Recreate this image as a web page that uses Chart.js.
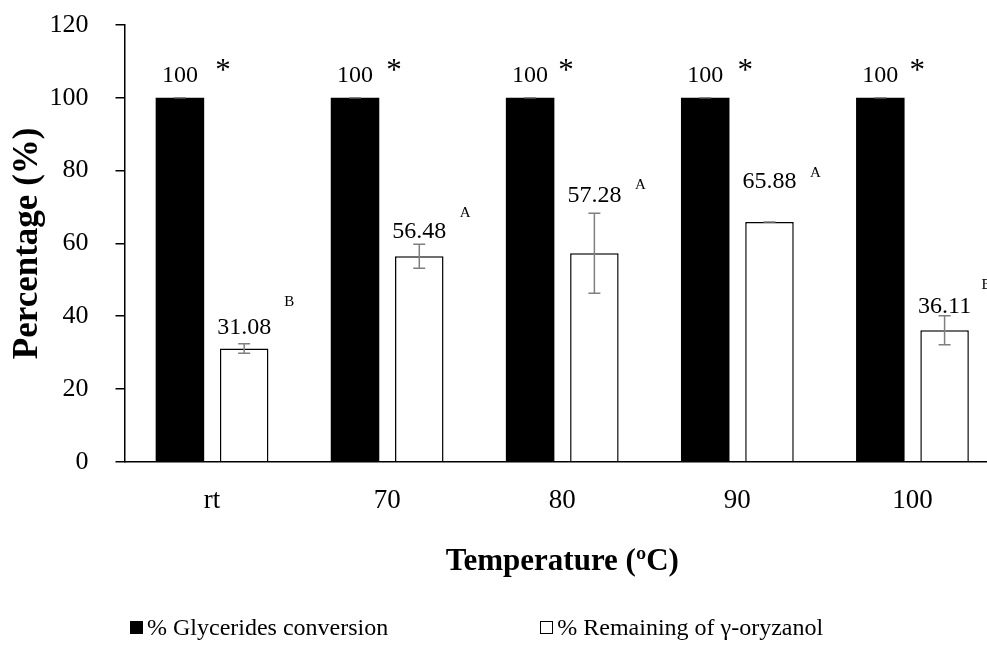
<!DOCTYPE html>
<html>
<head>
<meta charset="utf-8">
<title>Glycerides conversion vs temperature</title>
<script src="https://cdn.jsdelivr.net/npm/chart.js@4.4.1/dist/chart.umd.min.js"></script>
<style>
  html, body { margin: 0; padding: 0; background: #fff; overflow: hidden; }
  #wrap { position: relative; width: 1000px; height: 646px; }
  #legend {
    position: absolute; left: 130px; top: 614px; display: flex;
    font: 24px 'Liberation Serif', 'Times New Roman', serif; color: #000;
  }
  .item { display: flex; align-items: center; margin-right: 152px; white-space: nowrap; }
  .box { width: 13px; height: 13px; box-sizing: border-box; border: 1px solid #000; margin-right: 4px; }
</style>
</head>
<body>
<div id="wrap">
  <canvas id="chart"></canvas>
  <div id="legend"></div>
</div>
<script>
const temperatures = ['rt', '70', '80', '90', '100'];
const conversion = [100, 100, 100, 100, 100];
const conversionErr = [0, 0, 0, 0, 0];
const oryzanol = [31.08, 56.48, 57.28, 65.88, 36.11];
const oryzanolErr = [1.3, 3.3, 11, 0, 4];
const conversionMarks = ['*', '*', '*', '*', '*'];
const oryzanolLetters = ['B', 'A', 'A', 'A', 'B'];
const yTicks = [0, 20, 40, 60, 80, 100, 120];

const serif = "'Liberation Serif', 'Times New Roman', serif";

const fmt = v => Number.isInteger(v) ? String(v) : v.toFixed(2);

// error bars, value labels and significance marks above each bar
const barNotes = {
  id: 'barNotes',
  afterDatasetsDraw(chart, args, opts) {
    const { ctx } = chart;
    const y = chart.scales.y;
    chart.data.datasets.forEach((ds, i) => {
      const meta = chart.getDatasetMeta(i);
      const note = opts.notes[i];
      meta.data.forEach((bar, j) => {
        const v = ds.data[j];
        const e = ds.errors[j];
        const top = y.getPixelForValue(v + e);
        const bottom = y.getPixelForValue(v - e);

        ctx.save();
        ctx.strokeStyle = '#7f7f7f';
        ctx.lineWidth = 1.5;
        ctx.beginPath();
        ctx.moveTo(bar.x, top);
        ctx.lineTo(bar.x, bottom);
        ctx.moveTo(bar.x - 6, top);
        ctx.lineTo(bar.x + 6, top);
        ctx.moveTo(bar.x - 6, bottom);
        ctx.lineTo(bar.x + 6, bottom);
        ctx.stroke();

        const base = top - opts.gaps[i][j];
        ctx.fillStyle = '#000';
        ctx.textAlign = 'center';
        ctx.textBaseline = 'alphabetic';
        ctx.font = '24px ' + serif;
        ctx.fillText(fmt(v), bar.x, base);

        ctx.font = note.size + 'px ' + serif;
        ctx.fillText(ds.notes[j], bar.x + note.dx[j], base + note.dy[j]);
        ctx.restore();
      });
    });
  }
};

const chart = new Chart(document.getElementById('chart'), {
  type: 'bar',
  data: {
    labels: temperatures,
    datasets: [{
      label: '% Glycerides conversion',
      data: conversion,
      errors: conversionErr,
      notes: conversionMarks,
      backgroundColor: '#000',
      borderWidth: 0
    }, {
      label: '% Remaining of γ-oryzanol',
      data: oryzanol,
      errors: oryzanolErr,
      notes: oryzanolLetters,
      backgroundColor: '#fff',
      borderColor: '#000',
      borderWidth: 1.5
    }]
  },
  options: {
    responsive: true,
    maintainAspectRatio: false,
    animation: false,
    barPercentage: 0.755,
    categoryPercentage: 0.734,
    layout: { padding: { top: 25, right: 0, bottom: 46, left: 0 } },
    plugins: {
      legend: { display: false },
      tooltip: { enabled: false },
      barNotes: {
        gaps: [[16, 16, 16, 16, 16], [10, 6, 11, 34, 3]],
        notes: [
          { size: 31, dx: [43, 39, 36, 40, 37], dy: [-2, -2, -2, -2, -2] },
          { size: 15, dx: [45, 46, 46, 46, 42], dy: [-28, -21, -13, -11, -24] }
        ]
      }
    },
    scales: {
      x: {
        grid: { display: false, drawTicks: false },
        border: { color: '#000', width: 1.5 },
        ticks: { color: '#000', font: { family: serif, size: 27 }, padding: 23 },
        title: {
          display: true,
          text: 'Temperature (ºC)',
          color: '#000',
          font: { family: serif, size: 31, weight: 'bold' },
          padding: { bottom: 19 }
        },
        afterFit: s => { s.height = 138.3; }
      },
      y: {
        min: 0,
        max: 120,
        afterBuildTicks: s => { s.ticks = yTicks.map(v => ({ value: v })); },
        grid: { drawOnChartArea: false, drawTicks: true, tickLength: 9, color: '#000', lineWidth: 1.5 },
        border: { color: '#000', width: 1.5 },
        ticks: { color: '#000', font: { family: serif, size: 26 }, padding: 27 },
        title: {
          display: true,
          text: 'Percentage (%)',
          color: '#000',
          font: { family: serif, size: 35, weight: 'bold' },
          padding: { top: 7 }
        },
        // fixed axis width; label overhang is covered by the layout padding
        afterFit: s => {
          s.width = 124.5;
          s.paddingTop = 0;
          s.paddingBottom = 0;
        }
      }
    }
  },
  plugins: [barNotes]
});

// legend built from the datasets
const legend = document.getElementById('legend');
chart.data.datasets.forEach(ds => {
  const item = document.createElement('span');
  item.className = 'item';
  const box = document.createElement('span');
  box.className = 'box';
  box.style.background = ds.backgroundColor;
  item.appendChild(box);
  item.appendChild(document.createTextNode(ds.label));
  legend.appendChild(item);
});
</script>
</body>
</html>
